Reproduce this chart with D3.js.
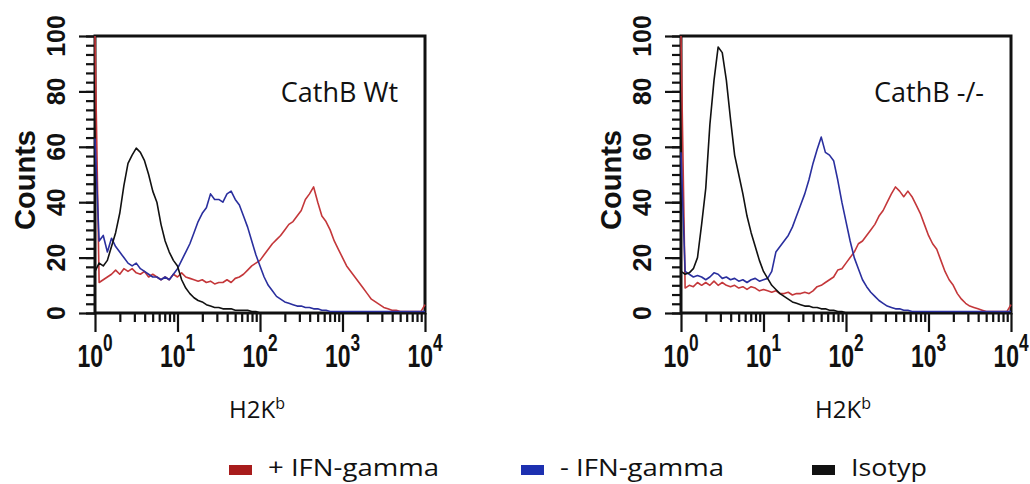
<!DOCTYPE html>
<html>
<head>
<meta charset="utf-8">
<script src="https://cdn.jsdelivr.net/npm/d3@7"></script>
<style>
  body { margin: 0; background: #fff; }
  svg { display: block; }
</style>
</head>
<body>
<svg id="chart" width="1030" height="484"></svg>
<script>
// Histogram channels are evenly spaced along the log axis, 10^0 .. 10^4
const channelCount = 81;
const decadeTicks = [1, 10, 100, 1000, 10000];
const decadeLabels = ["0", "1", "2", "3", "4"];
const countTicks = [0, 20, 40, 60, 80, 100];
const seriesNames = ["+ IFN-gamma", "- IFN-gamma", "Isotyp"];
const panelTitles = ["CathB Wt", "CathB -/-"];
const axisTitle = "Counts";
const markerName = "H2K";
const markerSup = "b";

// Cathepsin B wild type
const wtPlusIFN = [100, 11, 12, 13, 14, 15.5, 14, 16, 15, 16,
  14.5, 14, 15, 13, 14, 13, 12, 13, 12, 14,
  13, 14.5, 13, 12.5, 12, 11.5, 12, 11, 11.5, 10.5,
  11, 11, 12, 11, 12.5, 13, 14, 15.5, 17, 18,
  19, 21, 23, 25, 26.5, 28, 30, 32, 33, 35,
  37, 41, 43, 45.5, 40, 35, 33, 30, 26, 23,
  20, 17, 15, 13, 11, 9, 7, 5, 4, 3,
  2, 1.5, 1, 1, 0.5, 0.5, 0.5, 0.5, 0.5, 0.5,
  3];
const wtMinusIFN = [63, 26, 28, 22, 27, 24, 22, 20, 18, 17,
  18, 16, 15, 14, 13, 13, 12, 13, 12, 14,
  16, 19, 22, 25, 29, 33, 36, 38, 43, 41,
  41, 40, 43, 44, 41, 39, 35, 31, 26, 21,
  17, 13, 10, 8, 6, 5, 4, 3.5, 3, 2.5,
  2.5, 2, 2, 1.5, 1.5, 1, 1, 0.5, 0.5, 0.5,
  0.5, 0.5, 0.5, 0.5, 0.5, 0.5, 0.5, 0.5, 0.5, 0.5,
  0.5, 0.5, 0.5, 0.5, 0.5, 0.5, 0.5, 0.5, 0.5, 0.5,
  0.5];
const wtIsotype = [15, 18, 17, 19, 24, 29, 36, 46, 54, 57,
  59.5, 58, 55, 50, 44, 40, 32, 26, 22, 19,
  17, 12, 9, 7, 5.5, 4.5, 4, 3, 2.5, 2,
  2, 1.5, 1.5, 1.5, 1, 1, 1, 1, 0.5, 0.5,
  0, 0, 0, 0, 0, 0, 0, 0, 0, 0,
  0, 0, 0, 0, 0, 0, 0, 0, 0, 0,
  0, 0, 0, 0, 0, 0, 0, 0, 0, 0,
  0, 0, 0, 0, 0, 0, 0, 0, 0, 0,
  0];

// Cathepsin B knockout
const koPlusIFN = [100, 9, 10, 9.5, 11, 10, 11, 10, 11.5, 10,
  11, 10, 9.5, 10, 9, 9.5, 8.5, 9.5, 9, 8,
  8.5, 8, 7.5, 8, 7, 7, 7.5, 6.5, 7, 7,
  7.5, 7, 8, 9.5, 10, 11, 12, 13, 15.5, 16,
  18, 20, 22, 25, 26, 28, 30, 32, 35, 37,
  40, 43, 45.5, 44, 42, 44, 42, 39, 36, 32,
  28, 25, 23, 19, 15, 12, 10, 7, 5, 3.5,
  2.5, 2, 1.5, 1, 0.5, 0.5, 0.5, 0.5, 0.5, 0.5,
  3];
const koMinusIFN = [58, 15, 14, 13, 13.5, 13, 12, 13, 14.5, 14,
  12.5, 13, 12, 12.5, 11.5, 12, 11, 12, 12.5, 11.5,
  12, 12.5, 15, 22, 24, 26, 28, 31, 35, 39,
  43, 48, 54, 59, 63.5, 58, 57, 55, 48, 40,
  33, 26, 20, 16, 12, 9.5, 7.5, 6, 4.5, 3.5,
  2.5, 2, 1.5, 1.5, 1, 1, 0.5, 0.5, 0.5, 0.5,
  0.5, 0.5, 0.5, 0.5, 0.5, 0.5, 0.5, 0.5, 0.5, 0.5,
  0.5, 0.5, 0.5, 0.5, 0.5, 0.5, 0.5, 0.5, 0.5, 0.5,
  0.5];
const koIsotype = [15, 14, 14.5, 16, 20, 32, 45, 68, 84, 96,
  94, 84, 70, 57, 50, 43, 35, 29, 24, 19,
  15, 12.5, 10, 8.5, 7, 6, 5, 4, 3.5, 3,
  2.5, 2.5, 2, 2, 1.5, 1.5, 1, 1, 0.5, 0.5,
  0, 0, 0, 0, 0, 0, 0, 0, 0, 0,
  0, 0, 0, 0, 0, 0, 0, 0, 0, 0,
  0, 0, 0, 0, 0, 0, 0, 0, 0, 0,
  0, 0, 0, 0, 0, 0, 0, 0, 0, 0,
  0];

const lineColors = ["#c4373a", "#2a2f9e", "#111111"];
const swatchColors = ["#a81c1c", "#1d30b0", "#111111"];

const svg = d3.select("#chart");
const panelWidth = 330, panelHeight = 277, panelTop = 36;
const boldFont = "'Liberation Sans', Arial, sans-serif";
const textFont = "'Open Sans', 'Noto Sans', sans-serif";

const panels = [
  { left: 95, title: panelTitles[0], series: [wtPlusIFN, wtMinusIFN, wtIsotype] },
  { left: 681, title: panelTitles[1], series: [koPlusIFN, koMinusIFN, koIsotype] }
];

const x = d3.scaleLog().domain([1, 1e4]).range([0, panelWidth]);
const y = d3.scaleLinear().domain([0, 100]).range([panelHeight, 0]);
const channelValue = i => Math.pow(10, 4 * i / (channelCount - 1));

const minorX = [];
for (let d = 0; d < 4; d++) for (let k = 2; k <= 9; k++) minorX.push(k * Math.pow(10, d));
const minorY = d3.range(0, 100.001, 10 / 3);

panels.forEach((p, pi) => {
  const g = svg.append("g").attr("transform", `translate(${p.left},${panelTop})`);

  // plot frame
  g.append("rect")
    .attr("x", 0).attr("y", 0)
    .attr("width", panelWidth).attr("height", panelHeight)
    .attr("fill", "none").attr("stroke", "#111").attr("stroke-width", 3);

  const styleTicks = sel => {
    sel.select(".domain").remove();
    sel.selectAll(".tick line").attr("stroke", "#111").attr("stroke-width", 2.2);
  };

  // x ticks (minor + decades)
  g.append("g").attr("transform", `translate(0,${panelHeight})`)
    .call(d3.axisBottom(x).tickValues(minorX).tickSize(9).tickFormat(""))
    .call(styleTicks);
  g.append("g").attr("transform", `translate(0,${panelHeight})`)
    .call(d3.axisBottom(x).tickValues(decadeTicks).tickSize(19).tickFormat(""))
    .call(styleTicks);

  // y ticks
  g.append("g")
    .call(d3.axisLeft(y).tickValues(minorY).tickSize(9).tickFormat(""))
    .call(styleTicks);
  g.append("g")
    .call(d3.axisLeft(y).tickValues(countTicks).tickSize(16).tickFormat(""))
    .call(styleTicks);

  // x tick labels: 10^n in a condensed bold face
  const xl = g.append("g").selectAll("text").data(decadeTicks).join("text")
    .attr("transform", d => `translate(${x(d)},331) scale(0.72,1)`)
    .attr("text-anchor", "middle")
    .attr("fill", "#111")
    .style("font-family", boldFont)
    .style("font-weight", "bold");
  xl.append("tspan").style("font-size", "32px").text("10");
  xl.append("tspan").attr("dy", -16).style("font-size", "24px").text((d, i) => decadeLabels[i]);

  // y tick labels, rotated
  g.append("g").selectAll("text").data(countTicks).join("text")
    .attr("transform", d => `translate(-39,${y(d)}) rotate(-90)`)
    .attr("text-anchor", "middle")
    .attr("dominant-baseline", "central")
    .attr("fill", "#111")
    .style("font-family", boldFont)
    .style("font-weight", "bold")
    .style("font-size", "25px")
    .text(d => d);

  // y axis title
  g.append("text")
    .attr("transform", `translate(-70,144) rotate(-90)`)
    .attr("text-anchor", "middle")
    .attr("dominant-baseline", "central")
    .attr("fill", "#111")
    .style("font-family", boldFont)
    .style("font-weight", "bold")
    .style("font-size", "29px")
    .text(axisTitle);

  // panel title
  g.append("text")
    .attr("x", 303).attr("y", 66)
    .attr("text-anchor", "end")
    .attr("fill", "#111")
    .style("font-family", textFont)
    .style("font-size", "27px")
    .text(p.title);

  // x axis title
  const xt = g.append("text")
    .attr("x", 162).attr("y", 382)
    .attr("text-anchor", "middle")
    .attr("fill", "#111")
    .style("font-family", textFont)
    .style("font-size", "24px");
  xt.append("tspan").text(markerName);
  xt.append("tspan").attr("dy", -9).style("font-size", "16px").text(markerSup);

  // histograms
  g.append("clipPath").attr("id", `clip${pi}`)
    .append("rect").attr("x", -1).attr("y", 0)
    .attr("width", panelWidth + 2).attr("height", panelHeight + 1);

  const line = d3.line()
    .x((d, i) => x(channelValue(i)))
    .y(d => y(Math.min(d, 100)));

  g.append("g").attr("clip-path", `url(#clip${pi})`)
    .selectAll("path").data(p.series).join("path")
    .attr("d", d => line(d))
    .attr("fill", "none")
    .attr("stroke", (d, i) => lineColors[i])
    .attr("stroke-width", 1.6)
    .attr("stroke-linejoin", "round");
});

// legend
const legendX = [229, 521, 812];
const legendWidths = [171, 164, 76];
const lg = svg.append("g").selectAll("g").data(seriesNames).join("g")
  .attr("transform", (d, i) => `translate(${legendX[i]},465)`);
lg.append("rect")
  .attr("x", 0).attr("y", 0).attr("width", 23).attr("height", 10)
  .attr("fill", (d, i) => swatchColors[i]);
lg.append("text")
  .attr("x", 39).attr("y", 11)
  .attr("fill", "#111")
  .attr("textLength", (d, i) => legendWidths[i])
  .attr("lengthAdjust", "spacingAndGlyphs")
  .style("font-family", textFont)
  .style("font-size", "24px")
  .text(d => d);
</script>
</body>
</html>
